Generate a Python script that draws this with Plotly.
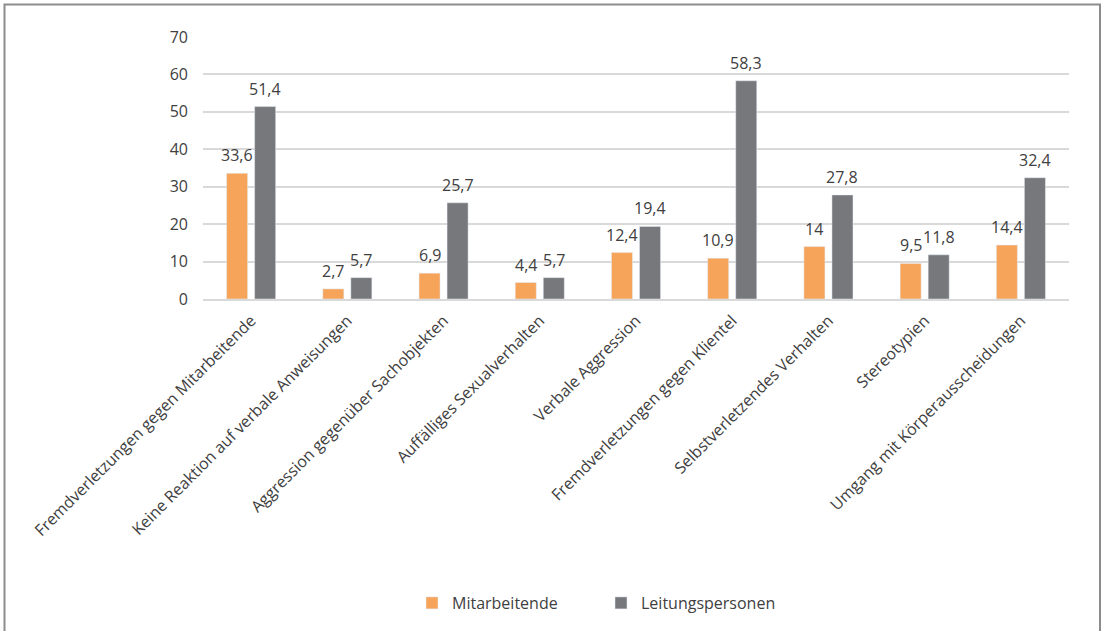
import plotly.graph_objects as go

categories = [
    "Fremdverletzungen gegen Mitarbeitende",
    "Keine Reaktion auf verbale Anweisungen",
    "Aggression gegenüber Sachobjekten",
    "Auffälliges Sexualverhalten",
    "Verbale Aggression",
    "Fremdverletzungen gegen Klientel",
    "Selbstverletzendes Verhalten",
    "Stereotypien",
    "Umgang mit Körperausscheidungen",
]
mitarbeitende = [33.6, 2.7, 6.9, 4.4, 12.4, 10.9, 14, 9.5, 14.4]
leitungspersonen = [51.4, 5.7, 25.7, 5.7, 19.4, 58.3, 27.8, 11.8, 32.4]
y_ticks = [0, 10, 20, 30, 40, 50, 60, 70]

def fmt(v):
    return f"{v:g}".replace(".", ",")

W, H = 1105, 631
ML, MR, MT, MB = 203, 36, 37, 332
PW = W - ML - MR
PH = H - MT - MB

def px_x(p):
    return (p - ML) / PW

def px_y(p):
    return (H - MB - p) / PH

FONT = "Open Sans"
TXT = "#404040"
FS = 16

fig = go.Figure()
fig.add_trace(go.Bar(
    x=categories, y=mitarbeitende, name="Mitarbeitende",
    marker=dict(color="#F6A45A"),
))
fig.add_trace(go.Bar(
    x=categories, y=leitungspersonen, name="Leitungspersonen",
    marker=dict(color="#77787B"),
))

annotations = []
for series, shift in ((mitarbeitende, -14), (leitungspersonen, 14)):
    for c, v in zip(categories, series):
        annotations.append(dict(
            x=c, y=v, xref="x", yref="y", text=fmt(v), showarrow=False,
            xshift=shift, yshift=5, yanchor="bottom", xanchor="center",
            font=dict(size=FS, color=TXT, family=FONT),
        ))

fig.update_layout(
    width=W, height=H,
    margin=dict(l=ML, r=MR, t=MT, b=MB, autoexpand=False),
    paper_bgcolor="white", plot_bgcolor="white",
    barmode="group", bargap=0.417, bargroupgap=0.25,
    separators=",.",
    font=dict(family=FONT, size=FS, color=TXT),
    xaxis=dict(
        tickangle=-45, showgrid=False, showline=True,
        linecolor="#D9D9D9", linewidth=2,
        tickfont=dict(size=FS, color=TXT, family=FONT),
        ticks="", ticklabelstandoff=4,
    ),
    yaxis=dict(
        range=[0, 70], tickvals=y_ticks, showgrid=True,
        gridcolor="#D9D9D9", gridwidth=2, zeroline=False,
        showline=False, ticks="", ticklabelstandoff=14,
        tickfont=dict(size=FS, color=TXT, family=FONT),
    ),
    legend=dict(
        orientation="h", x=px_x(601), xanchor="center",
        y=px_y(603), yanchor="middle",
        font=dict(size=FS, color=TXT, family=FONT),
        itemwidth=30, entrywidth=144, traceorder="normal",
    ),
    showlegend=True,
    annotations=annotations,
    shapes=[dict(
        type="rect", xref="paper", yref="paper",
        x0=px_x(4.5), x1=px_x(1100), y0=px_y(660), y1=px_y(4.5),
        line=dict(color="#8C8C8C", width=2), fillcolor="rgba(0,0,0,0)",
        layer="above",
    )],
)

fig.write_html("out.html")
